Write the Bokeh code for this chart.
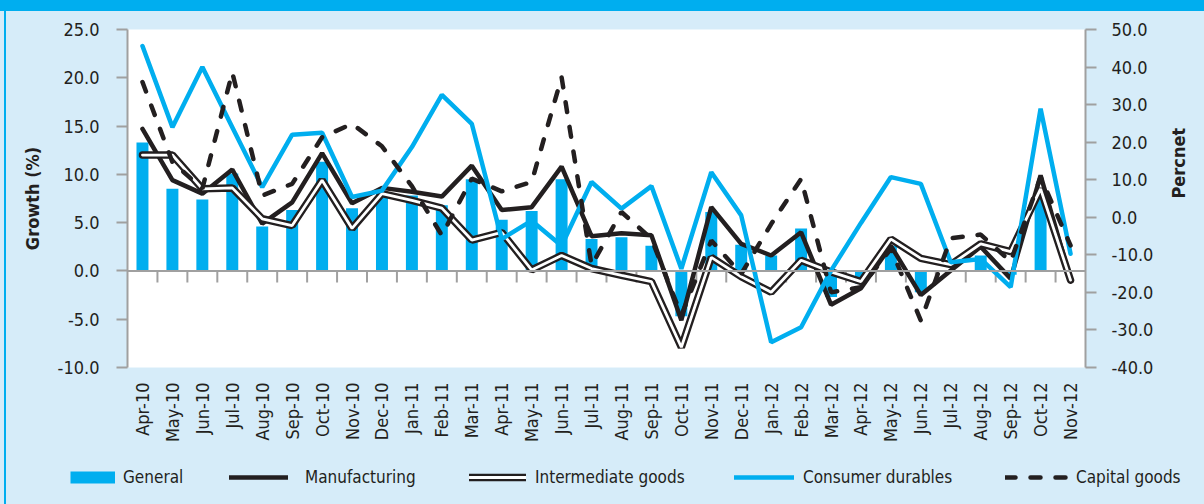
import math
from bokeh.plotting import figure
from bokeh.layouts import column, row
from bokeh.models import (Range1d, LinearAxis, FixedTicker, Span, Legend, LegendItem, Div,
                          NumeralTickFormatter, CustomJSTickFormatter, ColumnDataSource)
from bokeh.embed import file_html
from bokeh.resources import INLINE

categories = ["Apr-10", "May-10", "Jun-10", "Jul-10", "Aug-10", "Sep-10", "Oct-10", "Nov-10",
              "Dec-10", "Jan-11", "Feb-11", "Mar-11", "Apr-11", "May-11", "Jun-11", "Jul-11",
              "Aug-11", "Sep-11", "Oct-11", "Nov-11", "Dec-11", "Jan-12", "Feb-12", "Mar-12",
              "Apr-12", "May-12", "Jun-12", "Jul-12", "Aug-12", "Sep-12", "Oct-12", "Nov-12"]

# left axis (Growth %)
general = [13.3, 8.5, 7.4, 10.1, 4.6, 6.3, 11.3, 6.5, 8.0, 7.8, 6.8, 9.5, 5.3, 6.2, 9.5, 3.3,
           3.5, 2.6, -4.7, 6.1, 2.7, 1.6, 4.4, -2.7, -1.3, 2.6, -2.2, 0.1, 1.6, -0.4, 8.2, -0.1]
manufacturing = [14.7, 9.4, 8.0, 10.5, 4.9, 7.1, 12.2, 7.0, 8.6, 8.2, 7.7, 10.9, 6.3, 6.6, 10.8, 3.6,
                 3.9, 3.7, -5.1, 6.6, 2.8, 1.6, 4.0, -3.5, -1.8, 2.6, -2.5, 0.05, 2.5, -0.8, 9.9, -0.9]
intermediate = [12.0, 12.0, 8.5, 8.6, 5.4, 4.7, 9.4, 4.4, 8.0, 7.3, 6.5, 3.2, 4.0, 0.1, 1.6, 0.25,
                -0.45, -1.1, -7.9, 1.4, -0.6, -2.2, 1.1, -0.1, -1.1, 3.3, 1.3, 0.65, 2.8, 2.0, 8.5, -0.95]
# right axis (Percnet)
consumer_durables = [45.6, 24.0, 40.0, 24.0, 8.0, 22.0, 22.5, 5.4, 7.1, 18.7, 32.6, 24.9, -5.8, -0.9, -7.6, 9.4,
                     2.3, 8.3, -13.7, 12.0, 0.5, -33.3, -29.3, -14.2, -1.5, 10.7, 8.9, -12.0, -11.1, -18.6, 28.9, -9.7]
capital_goods = [36.0, 14.7, 7.6, 38.6, 5.8, 8.9, 21.3, 24.9, 18.9, 8.3, -4.8, 10.3, 6.9, 9.4, 37.3, -12.8,
                 1.4, -5.7, -26.1, -6.2, -15.1, -1.8, 10.2, -20.0, -18.6, -8.4, -27.5, -5.6, -4.6, -11.8, 10.7, -7.5]

left_ticks = [-10, -5, 0, 5, 10, 15, 20, 25]
right_ticks = [-40, -30, -20, -10, 0, 10, 20, 30, 40, 50]

BLUE = "#00aeef"
BLACK = "#231f20"
GRAY = "#a0a0a0"
BG = "#d6ecf9"
FONT = "DejaVu Sans Condensed, Liberation Sans"

n = len(categories)
xs = [i + 0.5 for i in range(n)]

p = figure(frame_width=958, frame_height=338, output_backend="svg", toolbar_location=None,
           x_range=Range1d(0, n), y_range=Range1d(left_ticks[0], left_ticks[-1]),
           min_border_left=121, min_border_right=119, min_border_top=18, min_border_bottom=88)
p.extra_y_ranges = {"right": Range1d(right_ticks[0], right_ticks[-1])}
p.border_fill_color = BG
p.background_fill_color = "white"
p.outline_line_color = None
p.xgrid.visible = False
p.ygrid.visible = False

# x axis: labels only
xa = p.xaxis[0]
xa.ticker = FixedTicker(ticks=xs)
xa.formatter = CustomJSTickFormatter(args=dict(cats=categories),
                                     code="return cats[Math.floor(tick)];")
xa.axis_line_color = None
xa.major_tick_line_color = None
xa.minor_tick_line_color = None
xa.major_tick_out = 0
xa.major_tick_in = 0
xa.major_label_orientation = math.pi / 2
xa.major_label_standoff = 15
xa.major_label_text_font = FONT
xa.major_label_text_font_size = "18px"
xa.major_label_text_color = BLACK

def style_y(ax, standoff):
    ax.formatter = NumeralTickFormatter(format="0.0")
    ax.axis_line_color = GRAY
    ax.axis_line_width = 2
    ax.major_tick_line_color = GRAY
    ax.major_tick_line_width = 2
    ax.major_tick_out = 11
    ax.major_tick_in = 0
    ax.minor_tick_line_color = None
    ax.major_label_standoff = standoff
    ax.major_label_text_font = FONT
    ax.major_label_text_font_size = "18px"
    ax.major_label_text_color = BLACK
    ax.axis_label_text_font = FONT
    ax.axis_label_text_font_style = "bold"
    ax.axis_label_text_font_size = "18px"
    ax.axis_label_text_color = BLACK

ya = p.yaxis[0]
ya.ticker = FixedTicker(ticks=left_ticks)
ya.axis_label = "Growth (%)"
style_y(ya, 17)
ya.axis_label_standoff = 12

ra = LinearAxis(y_range_name="right", ticker=FixedTicker(ticks=right_ticks), axis_label="Percnet")
style_y(ra, 15)
ra.axis_label_standoff = 22
ra.axis_label_orientation = math.pi / 2
p.add_layout(ra, "right")

# zero line and category boundary ticks
p.add_layout(Span(location=0, dimension="width", line_color=GRAY, line_width=2))
bounds = list(range(1, n))
p.segment(x0=bounds, y0=[0] * len(bounds), x1=bounds, y1=[-1.2] * len(bounds),
          line_color=GRAY, line_width=2)

# series
p.vbar(x=xs, top=general, bottom=0, width=0.4, fill_color=BLUE, line_color=None)
p.line(xs, manufacturing, line_color=BLACK, line_width=4.5, line_cap="round")
p.line(xs, intermediate, line_color=BLACK, line_width=7.5, line_cap="round")
p.line(xs, intermediate, line_color="white", line_width=2.8, line_cap="round")
p.line(xs, consumer_durables, line_color=BLUE, line_width=4.5, line_cap="round", y_range_name="right")
p.line(xs, capital_goods, line_color=BLACK, line_width=4.5, line_dash="10 15",
       line_cap="round", y_range_name="right")

# ---- legend strip (separate figure so nothing is clipped) ----
LW, LH = 1198, 49
pl = figure(frame_width=LW, frame_height=LH, output_backend="svg", toolbar_location=None,
            x_axis_type=None, y_axis_type=None, x_range=Range1d(0, 1), y_range=Range1d(0, 1),
            min_border=0)
pl.border_fill_color = BG
pl.background_fill_color = BG
pl.outline_line_color = None
pl.xgrid.visible = False
pl.ygrid.visible = False

def proxy(**kw):
    # off-range points: gives the legend a glyph without drawing in the strip
    return pl.line(x="x", y="y", source=ColumnDataSource(dict(x=[-5, -4], y=[-5, -5])), **kw)

g_gen = proxy(line_color=BLUE, line_width=12)
g_man = proxy(line_color=BLACK, line_width=4.5, line_cap="round")
g_int_b = proxy(line_color=BLACK, line_width=7.5, line_cap="round")
g_int_w = proxy(line_color="white", line_width=2.8, line_cap="round")
g_con = proxy(line_color=BLUE, line_width=4.5, line_cap="round")
g_cap = proxy(line_color=BLACK, line_width=4.5, line_dash="10 15", line_cap="round")

X0 = 6      # absolute x of the strip
LEG_Y = 14  # legend bottom above strip bottom

def add_leg(label, renderers, glyph_left, glyph_width, standoff):
    leg = Legend(items=[LegendItem(label=label, renderers=renderers)],
                 location=(glyph_left - X0, LEG_Y), orientation="horizontal",
                 padding=0, margin=0, spacing=0, glyph_width=glyph_width, glyph_height=26,
                 label_height=26, label_standoff=standoff,
                 background_fill_alpha=0, border_line_color=None,
                 label_text_font=FONT, label_text_font_size="17px", label_text_color=BLACK)
    pl.add_layout(leg, "center")

add_leg("General", [g_gen], 70, 45, 8)
add_leg("Manufacturing", [g_man], 229, 59, 17)
add_leg("Intermediate goods", [g_int_b, g_int_w], 469, 57, 9)
add_leg("Consumer durables", [g_con], 734, 60, 9)
add_leg("Capital goods", [g_cap], 1005, 63, 8)

# ---- frame decorations: top band and left rule ----
band = Div(text="", width=1204, height=11, margin=0, styles={"background-color": BLUE})
pad = Div(text="", width=4, height=493, margin=0, styles={"background-color": BG})
rule = Div(text="", width=2, height=493, margin=0, styles={"background-color": BLUE})

inner = column(p, pl, spacing=0, styles={"background-color": BG})
body = row(pad, rule, inner, spacing=0, styles={"background-color": BG})
layout = column(band, body, spacing=0, styles={"background-color": BG})

open("out.html", "w").write(file_html(layout, INLINE))
